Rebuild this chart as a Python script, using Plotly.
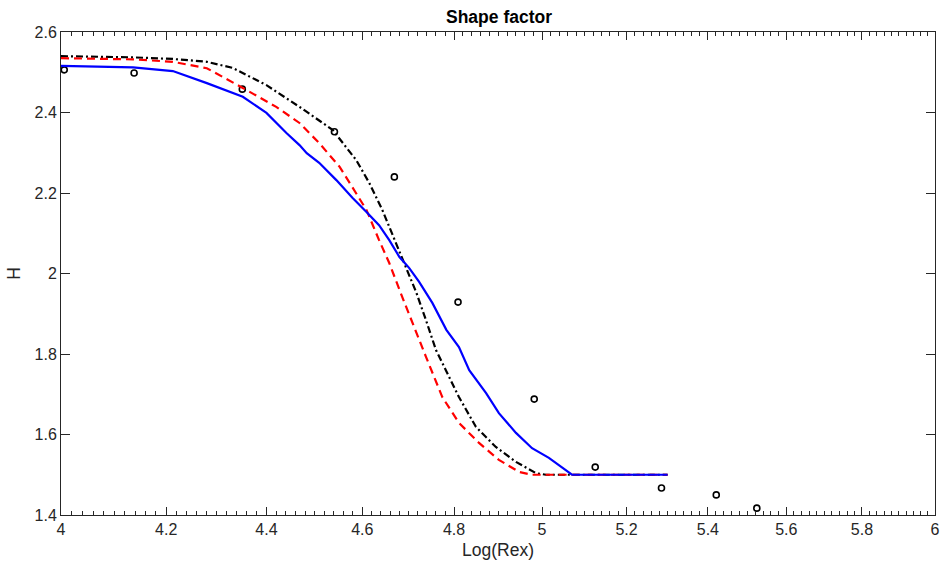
import math
import plotly.graph_objects as go

# Experimental points
exp_x = [4.006, 4.138, 4.351, 4.541, 4.669, 4.809, 4.982, 5.125, 5.285, 5.421, 5.524]
exp_y = [2.506, 2.498, 2.458, 2.352, 2.240, 1.929, 1.688, 1.519, 1.467, 1.450, 1.417]

# Black dash-dot curve
black_x = [4.0, 4.136, 4.213, 4.280, 4.331, 4.400, 4.468, 4.509, 4.537, 4.587, 4.615, 4.643, 4.673,
           4.695, 4.717, 4.738, 4.760, 4.774, 4.811, 4.849, 4.894, 4.940, 4.986, 5.009, 5.070, 5.300]
black_y = [2.540, 2.537, 2.533, 2.526, 2.511, 2.468, 2.414, 2.381, 2.357, 2.282, 2.225, 2.158, 2.076,
           2.016, 1.952, 1.884, 1.810, 1.778, 1.693, 1.619, 1.569, 1.532, 1.504, 1.500, 1.500, 1.500]

# Red dashed curve
red_x = [4.0, 4.136, 4.213, 4.280, 4.352, 4.420, 4.468, 4.489, 4.509, 4.552, 4.579, 4.609, 4.636,
         4.658, 4.686, 4.708, 4.730, 4.738, 4.774, 4.811, 4.856, 4.901, 4.947, 4.977, 5.300]
red_y = [2.535, 2.532, 2.526, 2.510, 2.461, 2.414, 2.374, 2.349, 2.324, 2.265, 2.215, 2.158, 2.083,
         2.026, 1.942, 1.878, 1.811, 1.793, 1.693, 1.629, 1.579, 1.537, 1.507, 1.500, 1.500]

# Blue solid curve
blue_x = [4.0, 4.136, 4.213, 4.280, 4.352, 4.400, 4.441, 4.468, 4.483, 4.509, 4.545, 4.579, 4.609,
          4.636, 4.658, 4.680, 4.701, 4.723, 4.752, 4.783, 4.811, 4.834, 4.872, 4.901, 4.940, 4.977,
          5.016, 5.070, 5.300]
blue_y = [2.516, 2.512, 2.503, 2.473, 2.439, 2.399, 2.349, 2.319, 2.299, 2.275, 2.232, 2.188, 2.153,
          2.120, 2.083, 2.041, 2.014, 1.979, 1.927, 1.860, 1.817, 1.760, 1.703, 1.653, 1.604, 1.566,
          1.542, 1.500, 1.500]

x_major = [4.0, 4.2, 4.4, 4.6, 4.8, 5.0, 5.2, 5.4, 5.6, 5.8, 6.0]
x_labels = ["4", "4.2", "4.4", "4.6", "4.8", "5", "5.2", "5.4", "5.6", "5.8", "6"]
x_minor = [round(4.0 + 0.02 * i, 2) for i in range(101)]
y_major = [1.4, 1.6, 1.8, 2.0, 2.2, 2.4, 2.6]
y_labels = ["1.4", "1.6", "1.8", "2", "2.2", "2.4", "2.6"]

fig = go.Figure()
fig.add_trace(go.Scatter(x=exp_x, y=exp_y, mode="markers",
                         marker=dict(symbol="circle-open", size=6, color="black",
                                     line=dict(width=1.6, color="black")),
                         showlegend=False))
fig.add_trace(go.Scatter(x=black_x, y=black_y, mode="lines",
                         line=dict(color="black", width=2.2, dash="7px,3px,2px,3px"),
                         showlegend=False))
fig.add_trace(go.Scatter(x=red_x, y=red_y, mode="lines",
                         line=dict(color="#ff0000", width=2.2, dash="8px,5px"),
                         showlegend=False))
fig.add_trace(go.Scatter(x=blue_x, y=blue_y, mode="lines",
                         line=dict(color="#0000ff", width=2.2),
                         showlegend=False))

axcol = "#262626"
fig.update_layout(
    width=944, height=565,
    margin=dict(l=61, r=4, t=32, b=50),
    plot_bgcolor="white", paper_bgcolor="white",
    font=dict(family="Liberation Sans, Arial, sans-serif", size=16, color=axcol),
    title=dict(text="<b>Shape factor</b>", x=499 / 944, xanchor="center",
               y=1 - 17 / 565, yanchor="middle", font=dict(size=17.5, color="black")),
    xaxis=dict(type="log", range=[math.log10(4), math.log10(6)],
               tickmode="array", tickvals=x_major, ticktext=x_labels,
               ticklabeloverflow="allow",
               ticks="inside", ticklen=8, tickwidth=1, tickcolor=axcol,
               minor=dict(tickmode="array", tickvals=x_minor, ticks="inside",
                          ticklen=4, tickwidth=1, tickcolor=axcol, showgrid=False),
               showline=True, linecolor=axcol, linewidth=1, mirror="allticks",
               showgrid=False, zeroline=False,
               title=dict(text="Log(Rex)", font=dict(size=17.5, color=axcol), standoff=6),
               tickfont=dict(size=16, color=axcol)),
    yaxis=dict(range=[1.4, 2.6], tickmode="array", tickvals=y_major, ticktext=y_labels,
               ticklabeloverflow="allow",
               ticks="inside", ticklen=9, tickwidth=1, tickcolor=axcol,
               showline=True, linecolor=axcol, linewidth=1, mirror="allticks",
               showgrid=False, zeroline=False,
               title=dict(text="H", font=dict(size=17.5, color=axcol), standoff=9),
               tickfont=dict(size=16, color=axcol)),
)
fig.write_html("out.html")
